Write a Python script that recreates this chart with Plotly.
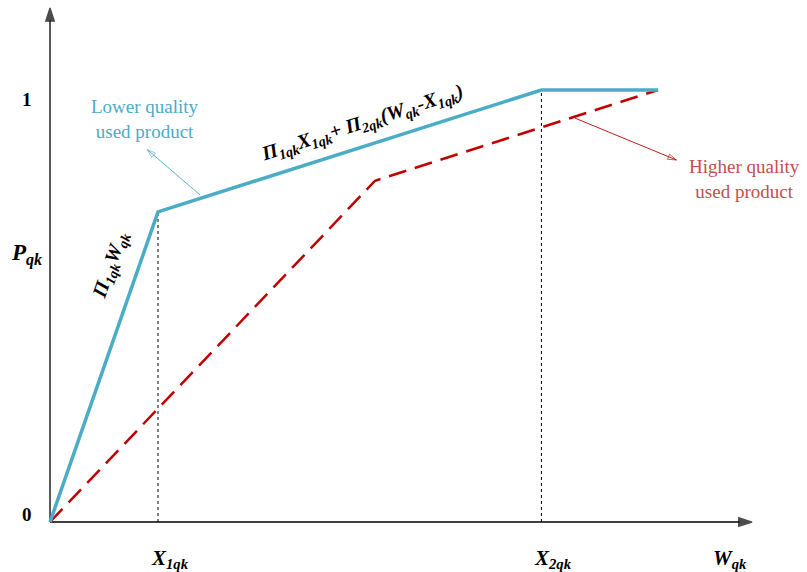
import plotly.graph_objects as go

# Piecewise value curves (W on the x axis, P on the y axis)
w_lower = [0.0, 1.0, 4.55, 5.63]
p_lower = [0.0, 0.718, 1.0, 1.0]
w_higher = [0.0, 3.01, 5.63]
p_higher = [0.0, 0.79, 1.0]

# Breakpoints marked on the horizontal axis
x_marks = [1.0, 4.55]
x_mark_tops = [0.718, 1.0]
x_tick_labels = ["<b><i>X<sub>1qk</sub></i></b>", "<b><i>X<sub>2qk</sub></i></b>"]

# Axis extents
x_min, x_max = -0.463, 7.009
y_min, y_max = -0.1157, 1.2083
x_axis_end = 6.5
y_axis_end = 1.19

# Callout pointers: (start x, start y, end x, end y)
lower_pointer = (1.39, 0.757, 0.9, 0.862)
higher_pointer = (4.86, 0.935, 5.8, 0.838)

BLUE = "#4BACC6"
RED = "#C00000"
SERIF = "Liberation Serif"

fig = go.Figure()


def arrow_line(x0, y0, x1, y1, color, width, head, symbol):
    """Straight line ending in an arrowhead marker pointing along the line."""
    fig.add_trace(go.Scatter(
        x=[x0, x1], y=[y0, y1], mode="lines+markers",
        line=dict(color=color, width=width),
        marker=dict(size=[0, head], symbol=symbol, angleref="previous",
                    color=color, line=dict(color=color, width=width)),
        hoverinfo="skip", showlegend=False))


# axes with arrowheads
arrow_line(0, 0, x_axis_end, 0, "black", 1.3, 14, "arrow")
arrow_line(0, 0, 0, y_axis_end, "black", 1.3, 14, "arrow")

# dotted guides from breakpoints down to the W axis
for xm, yt in zip(x_marks, x_mark_tops):
    fig.add_trace(go.Scatter(x=[xm, xm], y=[0, yt], mode="lines",
                             line=dict(color="black", width=1, dash="dot"),
                             hoverinfo="skip", showlegend=False))

fig.add_trace(go.Scatter(x=w_higher, y=p_higher, mode="lines",
                         line=dict(color=RED, width=2.5, dash="18px,9px"),
                         showlegend=False))
fig.add_trace(go.Scatter(x=w_lower, y=p_lower, mode="lines",
                         line=dict(color=BLUE, width=3.5),
                         showlegend=False))

# callout pointers
arrow_line(*lower_pointer, BLUE, 0.9, 9, "arrow-open")
arrow_line(*higher_pointer, RED, 0.9, 9, "arrow-open")

annotations = []

# axis labels
annotations.append(dict(x=-0.21, y=1.0 - 0.023, xref="x", yref="y", text="<b>1</b>",
                        showarrow=False, font=dict(family=SERIF, size=19, color="black")))
annotations.append(dict(x=-0.21, y=0.018, xref="x", yref="y", text="<b>0</b>",
                        showarrow=False, font=dict(family=SERIF, size=19, color="black")))
annotations.append(dict(x=-0.22, y=0.62, xref="x", yref="y",
                        text="<b><i>P<sub>qk</sub></i></b>",
                        showarrow=False, font=dict(family=SERIF, size=23, color="black")))
for xm, lab in zip(x_marks, x_tick_labels):
    annotations.append(dict(x=xm + 0.11, y=-0.085, xref="x", yref="y", text=lab,
                            showarrow=False, font=dict(family=SERIF, size=21, color="black")))
annotations.append(dict(x=6.3, y=-0.085, xref="x", yref="y",
                        text="<b><i>W<sub>qk</sub></i></b>",
                        showarrow=False, font=dict(family=SERIF, size=21, color="black")))

# segment formulas
annotations.append(dict(x=0.56, y=0.594, xref="x", yref="y",
                        text="<b><i>Π<sub>1qk</sub>W<sub>qk</sub></i></b>",
                        textangle=-70.8, showarrow=False,
                        font=dict(family=SERIF, size=20, color="black")))
annotations.append(dict(x=2.89, y=0.922, xref="x", yref="y",
                        text="<b><i>Π<sub>1qk</sub>X<sub>1qk</sub>+ Π<sub>2qk</sub>(W<sub>qk</sub>-X<sub>1qk</sub>)</i></b>",
                        textangle=-17.7, showarrow=False,
                        font=dict(family=SERIF, size=20, color="black")))

# curve callouts
annotations.append(dict(x=0.88, y=0.932, xref="x", yref="y",
                        text="Lower quality<br>used product", showarrow=False,
                        font=dict(family=SERIF, size=19, color=BLUE)))
annotations.append(dict(x=6.43, y=0.793, xref="x", yref="y",
                        text="Higher quality<br>used product", showarrow=False,
                        font=dict(family=SERIF, size=19, color="#C0504D")))

fig.update_layout(
    width=807, height=572,
    margin=dict(l=0, r=0, t=0, b=0),
    paper_bgcolor="white", plot_bgcolor="white",
    xaxis=dict(range=[x_min, x_max], visible=False, fixedrange=True),
    yaxis=dict(range=[y_min, y_max], visible=False, fixedrange=True),
    annotations=annotations,
    showlegend=False,
)

fig.write_html("out.html")
